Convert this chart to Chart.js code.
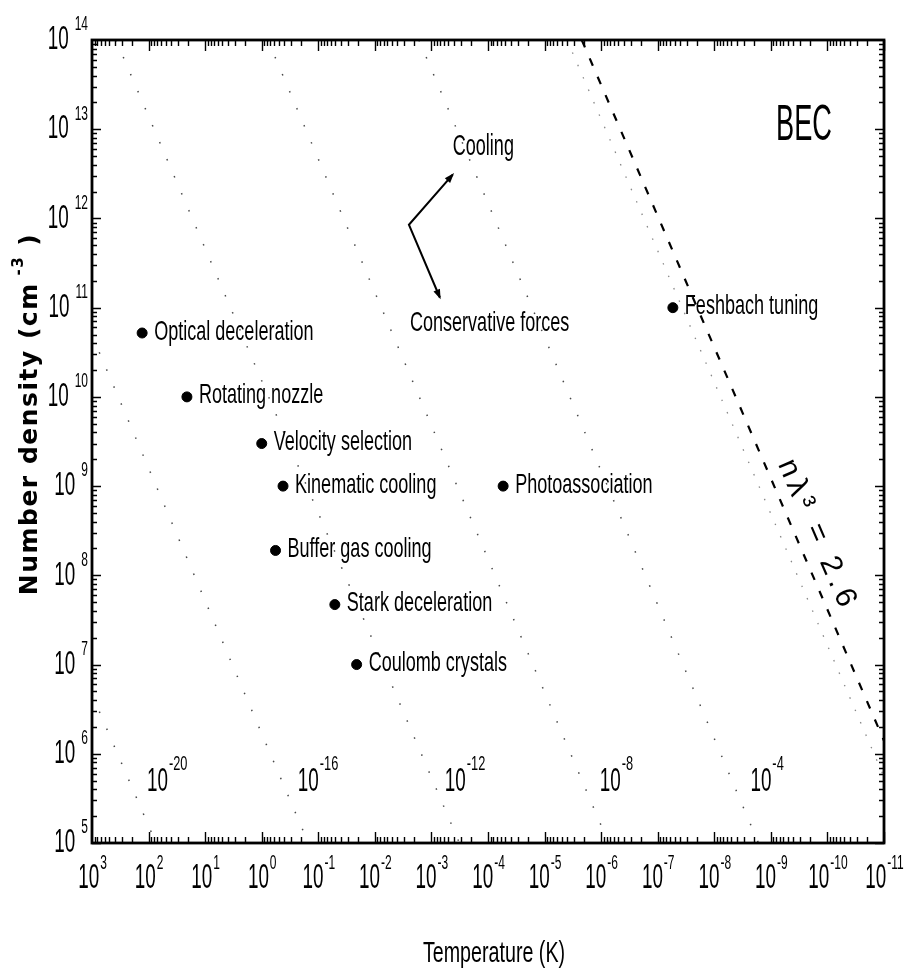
<!DOCTYPE html>
<html>
<head>
<meta charset="utf-8">
<script src="https://cdn.jsdelivr.net/npm/chart.js@4.4.1/dist/chart.umd.min.js"></script>
<style>
  html, body { margin: 0; padding: 0; background: #fff; }
  canvas { display: block; }
</style>
</head>
<body>
<canvas id="chart" width="906" height="973"></canvas>
<script>
// Techniques (points), temperature in K, density in cm^-3
const techniques    = ['Optical deceleration', 'Rotating nozzle', 'Velocity selection', 'Kinematic cooling',
                       'Buffer gas cooling', 'Stark deceleration', 'Coulomb crystals', 'Photoassociation', 'Feshbach tuning'];
const techTemps     = [130, 21, 1.0, 0.42, 0.57, 0.051, 0.021, 5.4e-5, 5.4e-8];
const techDensities = [5.2e10, 1e10, 3e9, 1e9, 1.9e8, 4.7e7, 1e7, 1e9, 1e11];

// Phase-space density lines (start / end)
const psdExps   = [-20, -16, -12, -8, -4];
const psdStartT = [1e3, 1e3, 377, 0.78, 1.66e-3];
const psdStartN = [4.6e6, 4.9e10, 1e14, 1e14, 1e14];
const psdEndT   = [74, 0.15, 3.2e-4, 7.4e-7, 1.66e-9];
const psdEndN   = [1e5, 1e5, 1e5, 1e5, 1e5];
const psdLabelT = [107, 0.23, 5.8e-4, 1.06e-6, 2.3e-9];
const psdLabelN = 4.8e5;

// BEC threshold n*lambda^3 = 2.6 (plus the faint dotted line beside it)
const becT = [2.2e-6, 1e-11];
const becN = [1e14, 1.4e6];
const becShadowT = [4e-6, 1e-11];
const becShadowN = [1e14, 5.5e5];

// Cooling / conservative forces arrow: upper tip, corner, lower tip
const arrowT = [4.2e-4, 2.5e-3, 7.1e-4];
const arrowN = [3.1e12, 8.5e11, 1.3e11];

// Axis decades
const xExps = [3, 2, 1, 0, -1, -2, -3, -4, -5, -6, -7, -8, -9, -10, -11];
const yExps = [5, 6, 7, 8, 9, 10, 11, 12, 13, 14];

const FONT = '"Liberation Sans", Arial, sans-serif';

function pts(xs, ys) { return xs.map((x, i) => ({ x: x, y: ys[i] })); }

const datasets = [];
psdExps.forEach((e, i) => {
  datasets.push({
    data: pts([psdStartT[i], psdEndT[i]], [psdStartN[i], psdEndN[i]]),
    showLine: true, borderColor: '#4a4a4a', borderWidth: 1.5,
    borderDash: [1.5, 17], pointRadius: 0
  });
});
datasets.push({
  data: pts(becShadowT, becShadowN), showLine: true, borderColor: '#888',
  borderWidth: 1.3, borderDash: [1.5, 12], pointRadius: 0
});
datasets.push({
  data: pts(becT, becN), showLine: true, borderColor: '#000',
  borderWidth: 2.2, borderDash: [8, 12], pointRadius: 0
});
datasets.push({
  data: pts(arrowT, arrowN), showLine: true, borderColor: '#000',
  borderWidth: 2, pointRadius: 0, tension: 0
});
datasets.push({
  data: pts(techTemps, techDensities), showLine: false,
  pointRadius: 5, pointBackgroundColor: '#000', pointBorderColor: '#000'
});

function text(ctx, str, x, y, size, sx, sy, align) {
  ctx.save();
  ctx.translate(x, y);
  ctx.scale(sx, sy);
  ctx.font = size + 'px ' + FONT;
  ctx.textAlign = align;
  ctx.textBaseline = 'middle';
  ctx.fillStyle = '#000';
  ctx.fillText(str, 0, 0);
  ctx.restore();
}
function textWidth(ctx, str, size, sx) {
  ctx.save();
  ctx.font = size + 'px ' + FONT;
  const w = ctx.measureText(str).width * sx;
  ctx.restore();
  return w;
}
function supStr(e) { return e < 0 ? '-' + Math.abs(e) : String(e); }

const figurePlugin = {
  id: 'figure',
  beforeDraw(chart) {
    const ctx = chart.ctx;
    ctx.save();
    ctx.fillStyle = '#fff';
    ctx.fillRect(0, 0, chart.width, chart.height);
    ctx.restore();
  },
  afterDatasetsDraw(chart) {
    const ctx = chart.ctx;
    const xs = chart.scales.x, ys = chart.scales.y;
    const X = v => xs.getPixelForValue(v), Y = v => ys.getPixelForValue(v);

    // arrowheads
    const tips = [[0, 1], [2, 1]];
    ctx.save();
    ctx.fillStyle = '#000';
    tips.forEach(([t, c]) => {
      const tx = X(arrowT[t]), ty = Y(arrowN[t]);
      const cx = X(arrowT[c]), cy = Y(arrowN[c]);
      const len = Math.hypot(tx - cx, ty - cy);
      const ux = (tx - cx) / len, uy = (ty - cy) / len;
      ctx.beginPath();
      ctx.moveTo(tx + ux * 2, ty + uy * 2);
      ctx.lineTo(tx - ux * 8 - uy * 3.5, ty - uy * 8 + ux * 3.5);
      ctx.lineTo(tx - ux * 8 + uy * 3.5, ty - uy * 8 - ux * 3.5);
      ctx.closePath();
      ctx.fill();
    });
    ctx.restore();

    // point labels
    techniques.forEach((name, i) => {
      text(ctx, name, X(techTemps[i]) + 12, Y(techDensities[i]) - 1, 22, 0.82, 1.25, 'left');
    });

    // annotations
    text(ctx, 'Cooling', X(arrowT[0]), Y(6.3e12), 22, 0.82, 1.3, 'left');
    text(ctx, 'Conservative forces', X(2.4e-3), Y(6.6e10), 22, 0.82, 1.25, 'left');
    text(ctx, 'BEC', X(2.6e-10), Y(1.07e13), 34, 0.8, 1.45, 'center');

    // n lambda^3 = 2.6 along the threshold line
    const ang = Math.atan2(Y(becN[1]) - Y(becN[0]), X(becT[1]) - X(becT[0]));
    ctx.save();
    ctx.translate(X(1.5e-10), Y(2.8e8));
    ctx.rotate(ang);
    ctx.font = '30px ' + FONT;
    ctx.letterSpacing = '5px';
    ctx.textAlign = 'center';
    ctx.textBaseline = 'middle';
    ctx.fillStyle = '#000';
    ctx.fillText('nλ\u00B3 = 2.6', 0, 0);
    ctx.restore();

    // phase-space density labels
    psdExps.forEach((e, i) => {
      const x0 = X(psdLabelT[i]), y0 = Y(psdLabelN);
      const w = textWidth(ctx, '10', 23, 0.82);
      text(ctx, '10', x0, y0, 23, 0.82, 1.45, 'left');
      text(ctx, supStr(e), x0 + w + 1, y0 - 18, 16, 0.8, 1.3, 'left');
    });
  },
  afterDraw(chart) {
    const ctx = chart.ctx;
    const a = chart.chartArea;
    const xs = chart.scales.x, ys = chart.scales.y;

    ctx.save();
    ctx.strokeStyle = '#000';
    ctx.lineWidth = 1.4;
    ctx.beginPath();
    // x ticks, top and bottom, pointing inward
    for (let k = -11; k < 3; k++) {
      for (let m = 1; m <= 9; m++) {
        const px = Math.round(xs.getPixelForValue(m * Math.pow(10, k))) + 0.5;
        const len = m === 1 ? 11 : 6;
        ctx.moveTo(px, a.bottom); ctx.lineTo(px, a.bottom - len);
        ctx.moveTo(px, a.top); ctx.lineTo(px, a.top + len);
      }
    }
    // y ticks, left and right
    for (let k = 5; k < 14; k++) {
      for (let m = 1; m <= 9; m++) {
        const py = Math.round(ys.getPixelForValue(m * Math.pow(10, k))) + 0.5;
        const len = m === 1 ? 9 : 5;
        ctx.moveTo(a.left, py); ctx.lineTo(a.left + len, py);
        ctx.moveTo(a.right, py); ctx.lineTo(a.right - len, py);
      }
    }
    ctx.stroke();
    ctx.lineWidth = 2.8;
    ctx.strokeRect(a.left, a.top, a.right - a.left, a.bottom - a.top);
    ctx.restore();

    // x tick labels
    xExps.forEach(e => {
      const px = xs.getPixelForValue(Math.pow(10, e));
      const s = supStr(e);
      const w1 = textWidth(ctx, '10', 23, 0.82);
      const w2 = textWidth(ctx, s, 15, 0.8);
      const x0 = px - (w1 + w2) / 2;
      text(ctx, '10', x0, a.bottom + 35, 23, 0.82, 1.5, 'left');
      text(ctx, s, x0 + w1 + 1, a.bottom + 20, 15, 0.8, 1.35, 'left');
    });

    // y tick labels
    yExps.forEach(e => {
      const py = ys.getPixelForValue(Math.pow(10, e));
      const s = String(e);
      text(ctx, s, a.left - 4, py - 15, 15, 0.8, 1.3, 'right');
      const w2 = textWidth(ctx, s, 15, 0.8);
      text(ctx, '10', a.left - 4 - w2 - 6, py, 23, 0.82, 1.45, 'right');
    });

    // x title
    text(ctx, 'Temperature (K)', (a.left + a.right) / 2 + 6, 954, 24, 0.82, 1.2, 'center');

    // y title, rotated
    ctx.save();
    ctx.translate(30, 414);
    ctx.rotate(-Math.PI / 2);
    ctx.fillStyle = '#000';
    ctx.textBaseline = 'middle';
    ctx.textAlign = 'left';
    ctx.letterSpacing = '1.5px';
    ctx.font = 'bold 25px "DejaVu Sans", sans-serif';
    const main = 'Number density (cm', tail = ' )';
    const wMain = ctx.measureText(main).width;
    const wTail = ctx.measureText(tail).width;
    ctx.font = 'bold 15px "DejaVu Sans", sans-serif';
    const wSup = ctx.measureText(' -3').width;
    const start = -(wMain + wSup + wTail) / 2;
    ctx.font = 'bold 25px "DejaVu Sans", sans-serif';
    ctx.fillText(main, start, 0);
    ctx.fillText(tail, start + wMain + wSup, 0);
    ctx.font = 'bold 15px "DejaVu Sans", sans-serif';
    ctx.fillText(' -3', start + wMain, -11);
    ctx.restore();
  }
};

new Chart(document.getElementById('chart'), {
  type: 'scatter',
  data: { datasets: datasets },
  options: {
    responsive: false,
    animation: false,
    layout: { padding: { left: 92, right: 22, top: 40, bottom: 130 } },
    plugins: { legend: { display: false }, tooltip: { enabled: false } },
    scales: {
      x: { type: 'logarithmic', reverse: true, min: 1e-11, max: 1e3, display: false },
      y: { type: 'logarithmic', min: 1e5, max: 1e14, display: false }
    }
  },
  plugins: [figurePlugin]
});
</script>
</body>
</html>
